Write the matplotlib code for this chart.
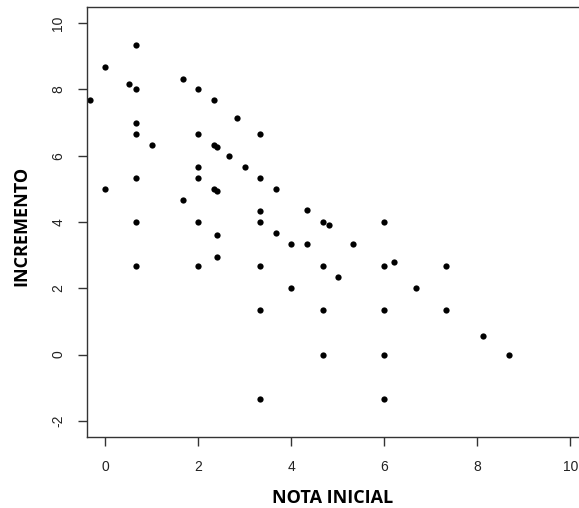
import matplotlib
matplotlib.use("Agg")
import matplotlib.pyplot as plt

# nota inicial (x) e incremento (y)
nota_inicial = [0.67, 0.0, 0.5, 0.67, -0.33, 1.67, 2.0, 2.33, 2.83, 0.67,
                0.67, 2.0, 3.33, 1.0, 2.33, 2.4, 2.67, 2.0, 3.0, 0.67,
                2.0, 3.33, 0.0, 2.33, 2.4, 3.67, 1.67, 3.33, 4.33, 0.67,
                2.0, 3.33, 4.67, 4.8, 6.0, 2.4, 3.67, 4.0, 4.33, 5.33,
                0.67, 2.0, 2.4, 3.33, 4.67, 6.0, 6.2, 7.33, 5.0, 4.0,
                6.67, 3.33, 4.67, 6.0, 7.33, 8.13, 4.67, 6.0, 8.67, 3.33,
                6.0]
incremento = [9.33, 8.67, 8.17, 8.0, 7.67, 8.33, 8.0, 7.67, 7.14, 7.0,
              6.67, 6.67, 6.67, 6.33, 6.33, 6.27, 6.0, 5.67, 5.67, 5.33,
              5.33, 5.33, 5.0, 5.0, 4.93, 5.0, 4.67, 4.33, 4.37, 4.0,
              4.0, 4.0, 4.0, 3.9, 4.0, 3.6, 3.67, 3.33, 3.33, 3.33,
              2.67, 2.67, 2.93, 2.67, 2.67, 2.67, 2.8, 2.67, 2.33, 2.0,
              2.0, 1.33, 1.33, 1.33, 1.33, 0.57, 0.0, 0.0, 0.0, -1.33,
              -1.33]
xticks = [0, 2, 4, 6, 8, 10]
yticks = [-2, 0, 2, 4, 6, 8, 10]

plt.rcParams['font.family'] = ['Liberation Sans', 'DejaVu Sans']

fig = plt.figure(figsize=(5.79, 5.08), dpi=100)
ax = fig.add_axes([86.7/579, 71.3/508, 502.3/579, 429.4/508])

ax.plot(nota_inicial, incremento, 'o', color='black', markersize=4.5,
        markeredgewidth=0)

ax.set_xlim(-0.4, 10.4)
ax.set_ylim(-2.48, 10.48)
ax.set_xticks(xticks)
ax.set_yticks(yticks)
ax.set_yticklabels([str(v) for v in yticks], rotation=90, va='center')

for s in ax.spines.values():
    s.set_color('#333333')
    s.set_linewidth(1.0)
ax.tick_params(direction='out', length=6.5, width=1.0, color='#333333',
               labelsize=10, labelcolor='#222222')
ax.tick_params(axis='x', pad=10)
ax.tick_params(axis='y', pad=9)

ax.set_xlabel('NOTA INICIAL', fontsize=13, fontweight='bold',
              family=['Open Sans', 'DejaVu Sans'])
ax.xaxis.set_label_coords(0.49, -0.122)
ax.set_ylabel('INCREMENTO', fontsize=13, fontweight='bold',
              family=['Open Sans', 'DejaVu Sans'])
ax.yaxis.set_label_coords(-0.112, 0.49)

fig.savefig('out.png', dpi=100)
